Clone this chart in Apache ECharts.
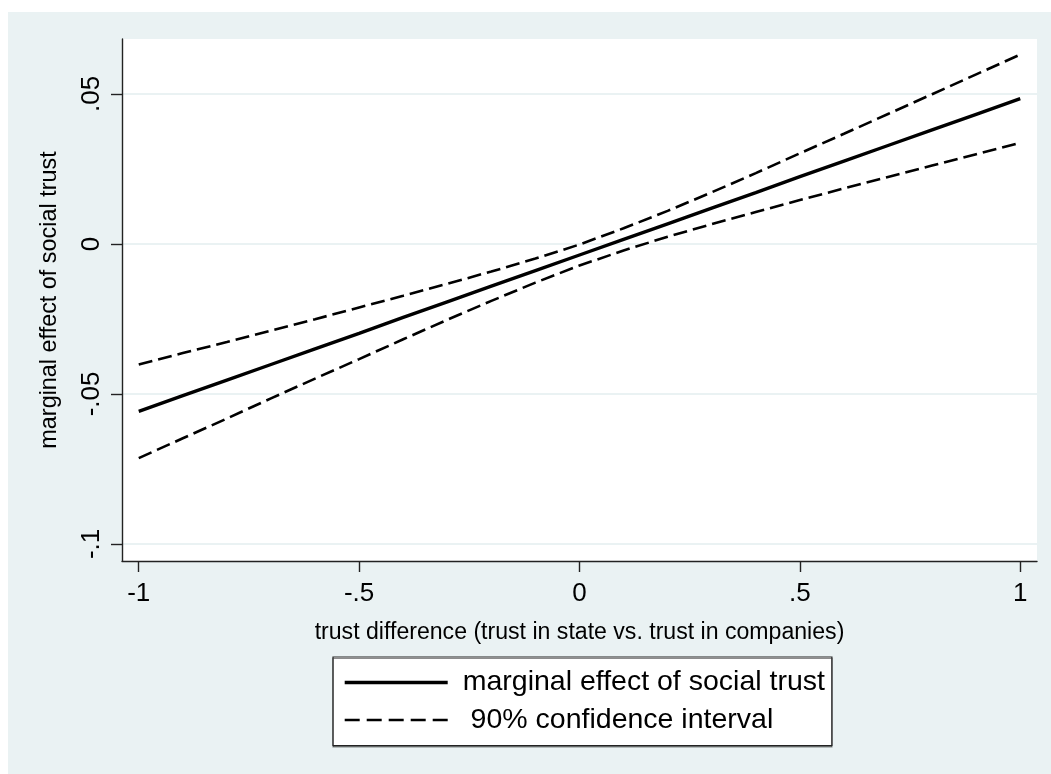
<!DOCTYPE html>
<html>
<head>
<meta charset="utf-8">
<script src="https://cdn.jsdelivr.net/npm/echarts@6/dist/echarts.min.js"></script>
<style>
  html, body { margin: 0; padding: 0; background: #ffffff; }
  #chart { position: absolute; left: 8px; top: 12px; width: 1043px; height: 762px; }
</style>
</head>
<body>
<div id="chart"></div>
<script>
// Trust difference (x) and the estimated marginal effect of social trust with its 90% band
const trustDiff = [-1, -0.9, -0.8, -0.7, -0.6, -0.5, -0.4, -0.3, -0.2, -0.1, 0,
                   0.1, 0.2, 0.3, 0.4, 0.5, 0.6, 0.7, 0.8, 0.9, 1];
const marginalEffect = [-0.0558, -0.0506, -0.0454, -0.0402, -0.0350, -0.0298, -0.0245,
                        -0.0193, -0.0141, -0.0089, -0.0037, 0.0015, 0.0067, 0.0119,
                        0.0171, 0.0224, 0.0276, 0.0328, 0.0380, 0.0432, 0.0484];
const ciUpper = [-0.0402, -0.0364, -0.0327, -0.0289, -0.0251, -0.0212, -0.0173, -0.0133,
                 -0.0092, -0.0049, -0.0002, 0.0052, 0.0110, 0.0172, 0.0236, 0.0302,
                 0.0367, 0.0433, 0.0499, 0.0565, 0.0631];
const ciLower = [-0.0714, -0.0648, -0.0582, -0.0515, -0.0449, -0.0384, -0.0318, -0.0253,
                 -0.0190, -0.0129, -0.0072, -0.0022, 0.0024, 0.0066, 0.0106, 0.0146,
                 0.0185, 0.0223, 0.0261, 0.0299, 0.0337];

// Axis ticks and their printed labels
const xTickValues = [-1, -0.5, 0, 0.5, 1];
const xTickLabels = ['-1', '-.5', '0', '.5', '1'];
const yTickValues = [-0.1, -0.05, 0, 0.05];
const yTickLabels = ['-.1', '-.05', '0', '.05'];

const seriesNames = ['marginal effect of social trust', ' 90% confidence interval'];

const FONT = '"Liberation Sans", Arial, Helvetica, sans-serif';

function labelFor(values, labels) {
  return function (v) {
    for (let i = 0; i < values.length; i++) {
      if (Math.abs(values[i] - v) < 1e-9) return labels[i];
    }
    return '';
  };
}

function pairs(ys) {
  return trustDiff.map((x, i) => [x, ys[i]]);
}

const chart = echarts.init(document.getElementById('chart'), null, { renderer: 'canvas' });

const solid = { color: '#000', width: 3.4, type: 'solid' };
const dashed = { color: '#000', width: 2.6, type: [14, 6] };

chart.setOption({
  backgroundColor: '#eaf2f3',
  animation: false,
  textStyle: { fontFamily: FONT, color: '#000' },
  grid: {
    left: 114, right: 14, top: 27, bottom: 213,
    show: true, backgroundColor: '#ffffff', borderWidth: 0
  },
  legend: {
    orient: 'vertical',
    left: 325, top: 645,
    padding: [11, 7, 11, 10],
    itemWidth: 103, itemHeight: 14, itemGap: 8.5,
    backgroundColor: '#ffffff',
    borderColor: '#222',
    borderWidth: 1.2,
    borderRadius: 0,
    shadowColor: 'rgba(0,0,0,0.45)', shadowOffsetX: 0, shadowOffsetY: 1.5, shadowBlur: 0,
    itemStyle: { opacity: 0 },
    textStyle: { fontFamily: FONT, fontSize: 28.5, color: '#000', padding: [0, 0, 0, 10] },
    data: [
      { name: seriesNames[0], lineStyle: { width: 3.4, type: 'solid', color: '#000' } },
      { name: seriesNames[1], lineStyle: { width: 2.6, type: [15, 7], color: '#000' } }
    ]
  },
  xAxis: {
    type: 'value',
    min: -1.038, max: 1.038,
    name: 'trust difference (trust in state vs. trust in companies)',
    nameLocation: 'middle', nameGap: 60, nameMoveOverlap: false,
    nameTextStyle: { fontFamily: FONT, fontSize: 23.1, color: '#000' },
    axisLine: { show: true, onZero: false, lineStyle: { color: '#222', width: 1.4 } },
    axisTick: { show: true, length: 11, customValues: xTickValues, lineStyle: { color: '#222', width: 1.4 } },
    axisLabel: {
      customValues: xTickValues, margin: 20,
      fontFamily: FONT, fontSize: 26, color: '#000',
      formatter: labelFor(xTickValues, xTickLabels)
    },
    splitLine: { show: false }
  },
  yAxis: {
    type: 'value',
    min: -0.1057, max: 0.0683,
    name: 'marginal effect of social trust',
    nameLocation: 'middle', nameGap: 61, nameRotate: 90, nameMoveOverlap: false,
    nameTextStyle: { fontFamily: FONT, fontSize: 23.4, color: '#000' },
    axisLine: { show: true, onZero: false, lineStyle: { color: '#222', width: 1.4 } },
    axisTick: { show: true, length: 11, customValues: yTickValues, lineStyle: { color: '#222', width: 1.4 } },
    axisLabel: {
      customValues: yTickValues, margin: 17, rotate: 90,
      fontFamily: FONT, fontSize: 26, color: '#000',
      formatter: labelFor(yTickValues, yTickLabels)
    },
    splitLine: { show: true, lineStyle: { color: '#eaf2f3', width: 2 } }
  },
  series: [
    {
      name: seriesNames[1], type: 'line', data: pairs(ciUpper),
      symbol: 'none', lineStyle: dashed, itemStyle: { color: '#000' }, z: 3
    },
    {
      name: seriesNames[1], type: 'line', data: pairs(ciLower),
      symbol: 'none', lineStyle: dashed, itemStyle: { color: '#000' }, z: 3
    },
    {
      name: seriesNames[0], type: 'line', data: pairs(marginalEffect),
      symbol: 'none', lineStyle: solid, itemStyle: { color: '#000' }, z: 4
    }
  ]
});
</script>
</body>
</html>
